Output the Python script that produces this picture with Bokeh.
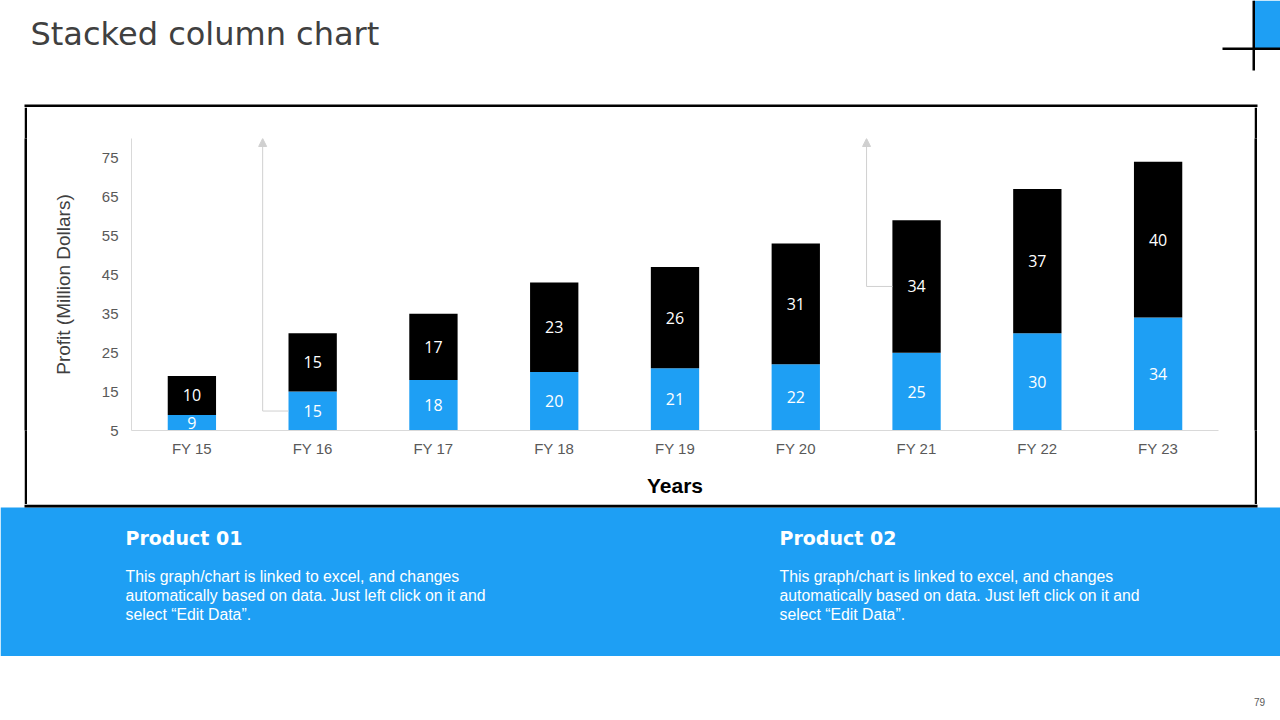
from bokeh.plotting import figure
from bokeh.models import (ColumnDataSource, FactorRange, Range1d, FixedTicker, Label,
                          Arrow, NormalHead, Spacer)
from bokeh.layouts import column, row
from bokeh.core.properties import value
from bokeh.embed import file_html
from bokeh.resources import INLINE

# ---- data ----
years = ["FY 15", "FY 16", "FY 17", "FY 18", "FY 19", "FY 20", "FY 21", "FY 22", "FY 23"]
product_01 = [9, 15, 18, 20, 21, 22, 25, 30, 34]
product_02 = [10, 15, 17, 23, 26, 31, 34, 37, 40]
y_ticks = [5, 15, 25, 35, 45, 55, 65, 75]
title_text = "Stacked column chart"
product_names = ["Product 01", "Product 02"]
body_lines = ["This graph/chart is linked to excel, and changes",
              "automatically based on data. Just left click on it and",
              "select \u201cEdit Data\u201d."]
page_number = "79"
# decorative callout connectors (category index, level)
callout_idx = [1, 6]
callout_level = [10, 42]

BLUE = "#1e9ff4"
W = 1280
Y_MIN, Y_MAX = 5, 80
BOX_L, BOX_R = 24, 1257   # black chart box edges (outer)
EDGE = 3


def canvas_fig(w, h, bg="white"):
    f = figure(width=w, height=h, x_range=Range1d(0, w), y_range=Range1d(h, 0),
               output_backend="svg", toolbar_location=None,
               x_axis_type=None, y_axis_type=None, min_border=0)
    f.outline_line_color = None
    f.xgrid.visible = False
    f.ygrid.visible = False
    f.background_fill_color = bg
    f.border_fill_color = bg
    return f


# ---- header (with top edge of chart box) ----
head = canvas_fig(W, 104 + EDGE)
head.add_layout(Label(x=30, y=33, text=title_text, text_font="DejaVu Sans",
                      text_font_size="32px", text_color="#404040",
                      text_baseline="middle", text_align="left"))
head.quad(left=[1253], right=[W], top=[0], bottom=[48], fill_color=BLUE, line_color=None)
head.quad(left=[1252, 1222, BOX_L], right=[1254.5, W, BOX_R], top=[0, 47, 104],
          bottom=[70, 49.5, 104 + EDGE], fill_color="black", line_color=None)

# ---- chart ----
CH = 504 - (104 + EDGE)
p = figure(x_range=FactorRange(*years), y_range=Range1d(Y_MIN, Y_MAX),
           width=(BOX_R - EDGE) - (BOX_L + EDGE), height=CH,
           output_backend="svg", toolbar_location=None,
           min_border_left=131 - (BOX_L + EDGE), min_border_right=(BOX_R - EDGE) - 1218,
           min_border_top=138 - (104 + EDGE), min_border_bottom=504 - 430)
p.outline_line_color = None
p.xgrid.grid_line_color = None
p.ygrid.grid_line_color = None

top2 = [a + b for a, b in zip(product_01, product_02)]
src = ColumnDataSource(dict(
    x=years, b1=[0] * len(years), t1=product_01, b2=product_01, t2=top2,
    m1=[(Y_MIN + v) / 2 for v in product_01],
    m2=[a + b / 2 for a, b in zip(product_01, product_02)],
    l1=[str(v) for v in product_01], l2=[str(v) for v in product_02]))

p.vbar(x="x", bottom="b1", top="t1", width=0.4, source=src, fill_color=BLUE, line_color=None)
p.vbar(x="x", bottom="b2", top="t2", width=0.4, source=src, fill_color="black", line_color=None)
for m, l in (("m1", "l1"), ("m2", "l2")):
    p.text(x="x", y=m, text=l, source=src, text_color="white", text_align="center",
           text_baseline="middle", text_font=value("Open Sans"), text_font_size="16px")

p.yaxis.ticker = FixedTicker(ticks=y_ticks)
for ax in (p.xaxis[0], p.yaxis[0]):
    ax.axis_line_color = "#d9d9d9"
    ax.axis_line_width = 1
    ax.major_tick_line_color = None
    ax.minor_tick_line_color = None
    ax.major_tick_out = 0
    ax.major_tick_in = 0
    ax.major_label_text_font = "Liberation Sans"
    ax.major_label_text_font_size = "15px"
    ax.major_label_text_color = "#595959"
p.yaxis.major_label_standoff = 13
p.xaxis.major_label_standoff = 9
p.yaxis.axis_label = "Profit (Million Dollars)"
p.yaxis.axis_label_text_font = "Liberation Sans"
p.yaxis.axis_label_text_font_style = "normal"
p.yaxis.axis_label_text_font_size = "19px"
p.yaxis.axis_label_text_color = "#404040"
p.yaxis.axis_label_standoff = 25
p.xaxis.axis_label = "Years"
p.xaxis.axis_label_text_font = "Liberation Sans"
p.xaxis.axis_label_text_font_style = "bold"
p.xaxis.axis_label_text_font_size = "21px"
p.xaxis.axis_label_text_color = "black"
p.xaxis.axis_label_standoff = 14

for i, lvl in zip(callout_idx, callout_level):
    cx = i + 0.5
    p.add_layout(Arrow(x_start=cx - 0.2, y_start=lvl, x_end=cx - 0.414, y_end=lvl,
                       end=None, line_color="#d0d0d0", line_width=1))
    p.add_layout(Arrow(x_start=cx - 0.414, y_start=lvl, x_end=cx - 0.414, y_end=Y_MAX,
                       end=NormalHead(size=8, fill_color="#d0d0d0", line_color="#d0d0d0"),
                       line_color="#d0d0d0", line_width=1))

left_edge = canvas_fig(EDGE, CH, "black")
right_edge = canvas_fig(EDGE, CH, "black")
chart_row = row(Spacer(width=BOX_L, height=CH), left_edge, p, right_edge,
                Spacer(width=W - BOX_R, height=CH), spacing=0)

# ---- blue band (with bottom edge of chart box) ----
BAND_TOP = 507
band = canvas_fig(W, 656 - 504)
band.quad(left=[0], right=[W], top=[BAND_TOP - 504], bottom=[656 - 504],
          fill_color=BLUE, line_color=None)
band.quad(left=[BOX_L], right=[BOX_R], top=[0], bottom=[EDGE], fill_color="black", line_color=None)
for bx_x, name in zip((125, 779), product_names):
    band.add_layout(Label(x=bx_x, y=537 - 504, text=name, text_font="DejaVu Sans",
                          text_font_style="bold", text_font_size="19px", text_color="white",
                          text_baseline="middle", text_align="left"))
    for k, line in enumerate(body_lines):
        band.add_layout(Label(x=bx_x, y=576 - 504 + 19 * k, text=line,
                              text_font="Liberation Sans", text_font_size="15.8px",
                              text_color="white", text_baseline="middle", text_align="left"))

# ---- footer ----
foot = canvas_fig(W, 720 - 656)
foot.add_layout(Label(x=1259, y=701 - 656, text=page_number, text_font="Liberation Sans",
                      text_font_size="10px", text_color="#595959",
                      text_baseline="middle", text_align="center"))

page = column(head, chart_row, band, foot, spacing=0)

html = file_html(page, INLINE)
html = html.replace("<head>", "<head><style>html,body{margin:0;padding:0;overflow:hidden;}</style>", 1)
open("out.html", "w").write(html)
